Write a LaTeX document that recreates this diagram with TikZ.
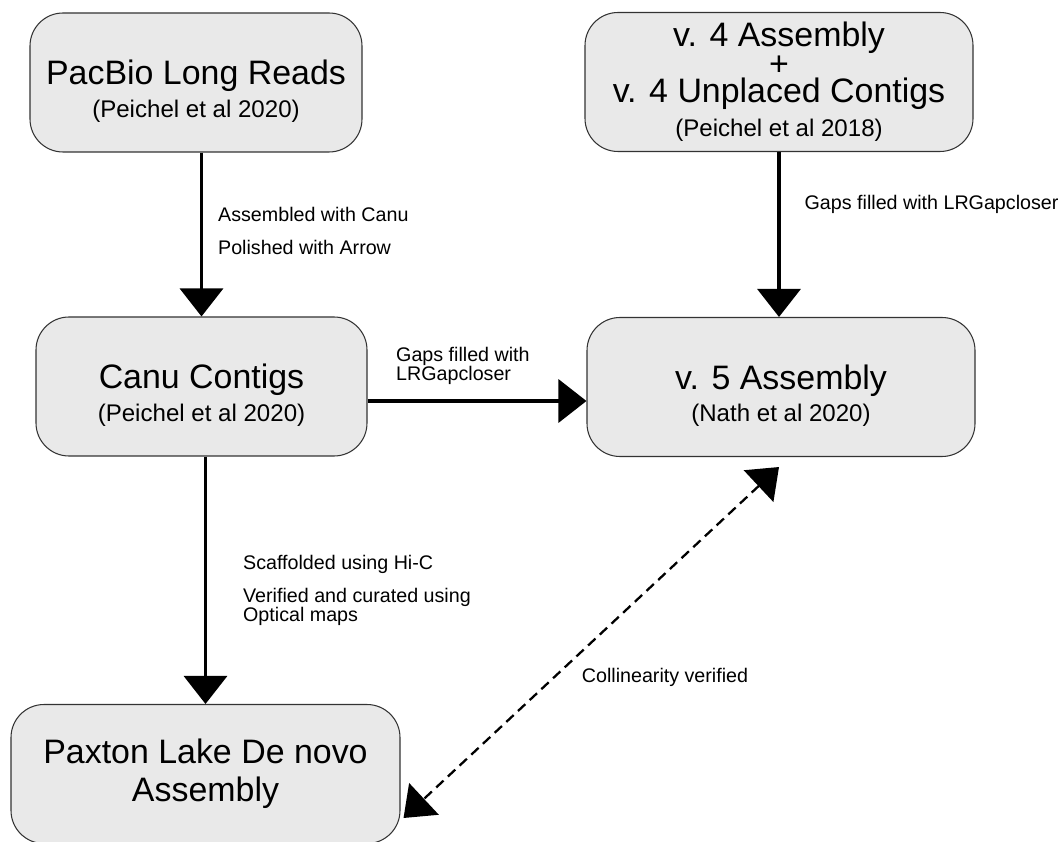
\documentclass[tikz,border=0pt]{standalone}
\usepackage{fontspec}
\setmainfont{Liberation Sans}
\usetikzlibrary{arrows.meta, positioning}
\definecolor{boxfill}{HTML}{E9E9E9}
\definecolor{boxline}{HTML}{333333}
\newcommand{\subsize}{\fontsize{13.7}{16}\selectfont}
\newcommand{\toppad}{\rule{0pt}{24pt}}

\begin{document}
\begin{tikzpicture}[
    >={Triangle[length=0.56cm, width=0.86cm]},
    abox/.style={draw=boxline, fill=boxfill, line width=0.6pt, rounded corners=0.66cm, minimum width=#1, minimum height=2.78cm, align=center, inner sep=0pt, font=\fontsize{19.3}{21.6}\selectfont},
    flow/.style={->, line width=1.9pt},
    check/.style={<->, line width=1.3pt, dash pattern=on 5.7pt off 3.4pt},
    lbl/.style={font=\fontsize{11.2}{10.8}\selectfont, align=left, inner sep=0pt},
]
    \useasboundingbox (0,0) rectangle (21.22,-16.84);

    % Assemblies
    \node[abox=6.64cm] (pacbio) at (3.92, -1.65) {\toppad PacBio Long Reads\\[-3pt]{\subsize (Peichel et al 2020)}};
    \node[abox=7.76cm] (v4) at (15.58, -1.64) {v. 4 Assembly\\[-5pt]+\\[-6.5pt]v. 4 Unplaced Contigs\\[-2pt]{\subsize (Peichel et al 2018)}};
    \node[abox=6.62cm] (canu) at (4.03, -7.73) {\toppad Canu Contigs\\[-3pt]{\subsize (Peichel et al 2020)}};
    \node[abox=7.76cm] (v5) at (15.62, -7.74) {\toppad v. 5 Assembly\\[-3.5pt]{\subsize (Nath et al 2020)}};
    \node[abox=7.78cm] (paxton) at (4.11, -15.48) {Paxton Lake De novo\\Assembly};

    % Edges
    \draw[flow] (canu.north |- pacbio.south) -- node[lbl, right=0.3cm, pos=0.48] {Assembled with Canu\\[7.8pt]Polished with Arrow} (canu.north);
    \draw[flow] (v4.south) -- node[lbl, right=0.48cm, pos=0.32] {Gaps filled with LRGapcloser} (v4.south |- v5.north);
    \draw[flow] ([yshift=-0.29cm]canu.east) -- node[lbl, above right=0.3cm and 0.54cm, pos=0] {Gaps filled with\\LRGapcloser} ([yshift=-0.29cm]canu.east -| v5.west);
    \draw[flow] (paxton.north |- canu.south) -- node[lbl, right=0.72cm, pos=0.54] {Scaffolded using Hi-C\\[7.8pt]Verified and curated using\\Optical maps} (paxton.north);
    \draw[check] ([xshift=-0.04cm, yshift=-0.2cm]v5.south) -- node[lbl, right=0.54cm, pos=0.6] {Collinearity verified} ([xshift=0.06cm, yshift=-0.88cm]paxton.east);
\end{tikzpicture}
\end{document}
